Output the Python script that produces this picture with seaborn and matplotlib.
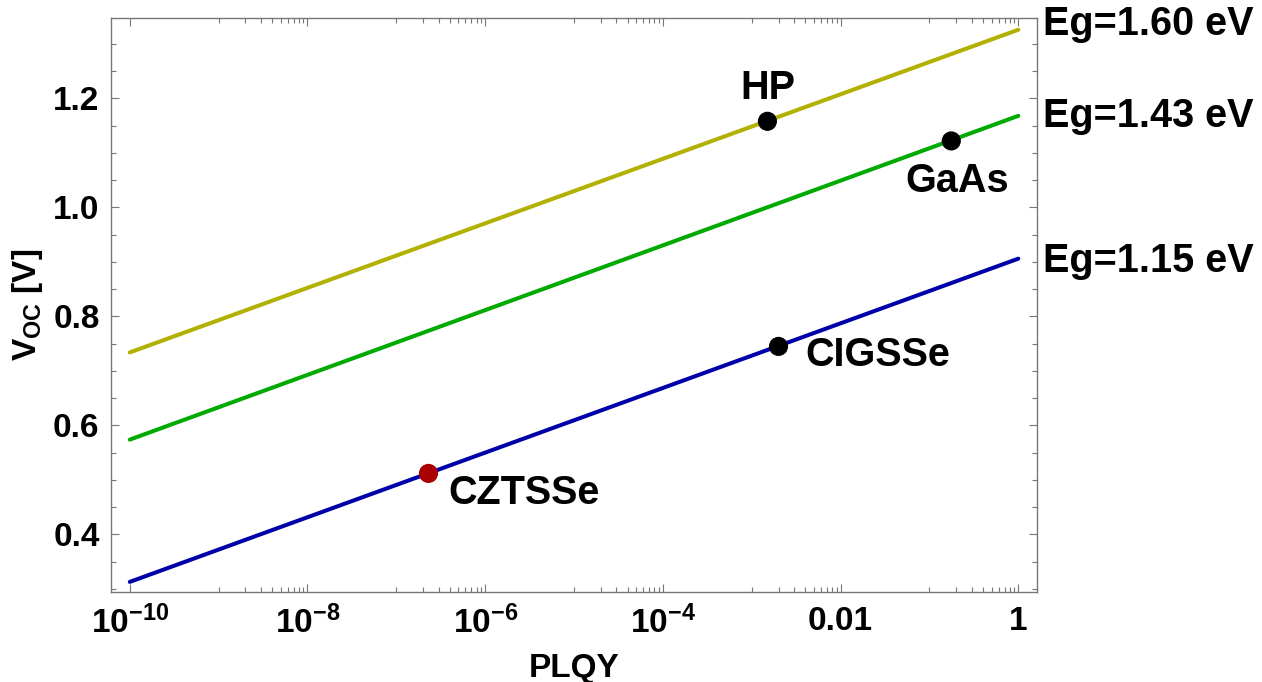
import numpy as np
import pandas as pd
import matplotlib
matplotlib.use("Agg")
import matplotlib.pyplot as plt
import matplotlib.ticker as mticker
import seaborn as sns

# ---- data ----
plqy_ends = [1e-10, 1.0]
voc_eg160 = [0.734, 1.326]
voc_eg143 = [0.574, 1.168]
voc_eg115 = [0.313, 0.906]
line_labels = ["Eg=1.60 eV", "Eg=1.43 eV", "Eg=1.15 eV"]

point_names = ["HP", "GaAs", "CIGSSe", "CZTSSe"]
point_plqy = [1.5e-3, 0.176, 2.0e-3, 2.3e-7]
point_voc = [1.158, 1.122, 0.745, 0.512]

xtick_vals = [1e-10, 1e-8, 1e-6, 1e-4, 1e-2, 1]
xtick_labels = [r"$\mathbf{10^{-10}}$", r"$\mathbf{10^{-8}}$", r"$\mathbf{10^{-6}}$",
                r"$\mathbf{10^{-4}}$", "0.01", "1"]
ytick_vals = [0.4, 0.6, 0.8, 1.0, 1.2]
ytick_labels = ["0.4", "0.6", "0.8", "1.0", "1.2"]

# ---- style ----
sns.set_style("ticks")
plt.rcParams['font.family'] = ['Liberation Sans', 'DejaVu Sans']
plt.rcParams['font.weight'] = 'bold'
plt.rcParams['text.color'] = 'black'
plt.rcParams['axes.labelcolor'] = 'black'
plt.rcParams['xtick.labelcolor'] = 'black'
plt.rcParams['ytick.labelcolor'] = 'black'
plt.rcParams['mathtext.fontset'] = 'custom'
plt.rcParams['mathtext.rm'] = 'Liberation Sans:bold'
plt.rcParams['mathtext.bf'] = 'Liberation Sans:bold'
plt.rcParams['mathtext.it'] = 'Liberation Sans:bold:italic'

line_colors = ["#B2B000", "#00AA00", "#0000AA"]
point_colors = ["black", "black", "black", "#AA0000"]

fig = plt.figure(figsize=(12.62, 6.82), dpi=100)
ax = fig.add_axes([0.0877, 0.1324, 0.734, 0.8408])

lines_df = pd.DataFrame({
    "plqy": plqy_ends * 3,
    "voc": voc_eg160 + voc_eg143 + voc_eg115,
    "Eg": [line_labels[0]] * 2 + [line_labels[1]] * 2 + [line_labels[2]] * 2,
})
sns.lineplot(data=lines_df, x="plqy", y="voc", hue="Eg", palette=line_colors,
             linewidth=2.9, legend=False, ax=ax)

pts_df = pd.DataFrame({"plqy": point_plqy, "voc": point_voc, "name": point_names})
sns.scatterplot(data=pts_df, x="plqy", y="voc", hue="name", palette=point_colors,
                s=190, edgecolor="none", legend=False, ax=ax, zorder=5)

ax.set_xscale("log")
ax.set_xlim(10 ** -10.215, 10 ** 0.21)
ax.set_ylim(0.295, 1.347)

# ticks
ax.set_xticks(xtick_vals)
ax.set_xticklabels(xtick_labels)
minor = []
for d in [-9, -7, -5, -3, -1]:
    for k in range(1, 10):
        minor.append(k * 10.0 ** d)
ax.xaxis.set_minor_locator(mticker.FixedLocator(minor))
ax.xaxis.set_minor_formatter(mticker.NullFormatter())
ax.set_yticks(ytick_vals)
ax.set_yticklabels(ytick_labels)
ax.yaxis.set_minor_locator(mticker.MultipleLocator(0.05))

ax.tick_params(which="both", direction="in", top=True, right=True,
               color="#777777", width=0.8)
ax.tick_params(which="major", length=6, labelsize=24, pad=8)
ax.tick_params(axis="x", which="major", pad=10)
ax.tick_params(which="minor", length=3.5)
for lab in ax.get_xticklabels() + ax.get_yticklabels():
    lab.set_fontweight("bold")
for sp in ax.spines.values():
    sp.set_color("#777777")
    sp.set_linewidth(1.0)

ax.set_xlabel("PLQY", fontsize=24, fontweight="bold", labelpad=9)
ax.set_ylabel(r"V$_{\mathbf{OC}}$ [V]", fontsize=24, fontweight="bold", labelpad=6)

# point labels
offsets = {"HP": (0, 24, "center", "center"),
           "GaAs": (4, -29, "center", "center"),
           "CIGSSe": (19, -6, "left", "center"),
           "CZTSSe": (14, -14, "left", "center")}
for n, x, y in zip(point_names, point_plqy, point_voc):
    dx, dy, ha, va = offsets[n]
    ax.annotate(n, xy=(x, y), xytext=(dx, dy), textcoords="offset points",
                ha=ha, va=va, fontsize=28.5, fontweight="bold")

# Eg labels at right of frame
for lab, v, dy in zip(line_labels, [voc_eg160[1], voc_eg143[1], voc_eg115[1]], [4, 0, -2]):
    ax.annotate(lab, xy=(1.0, v), xycoords=("axes fraction", "data"),
                xytext=(4, dy), textcoords="offset points", ha="left", va="center",
                fontsize=28.5, fontweight="bold", annotation_clip=False)

fig.savefig("out.png", dpi=100)
